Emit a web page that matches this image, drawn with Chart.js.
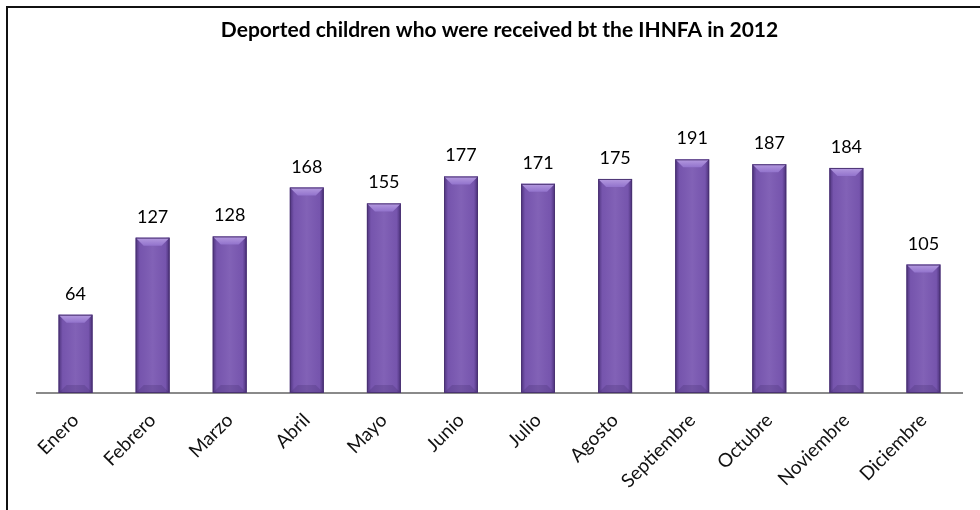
<!DOCTYPE html>
<html>
<head>
<meta charset="utf-8">
<script src="https://cdn.jsdelivr.net/npm/chart.js@4/dist/chart.umd.min.js"></script>
<style>
  html, body { margin: 0; padding: 0; background: #fff; }
  #wrap { width: 980px; height: 510px; position: relative; }
</style>
</head>
<body>
<div id="wrap"><canvas id="bar-chart" width="980" height="510"></canvas></div>
<script>
var months = ["Enero", "Febrero", "Marzo", "Abril", "Mayo", "Junio", "Julio", "Agosto", "Septiembre", "Octubre", "Noviembre", "Diciembre"];
var children = [64, 127, 128, 168, 155, 177, 171, 175, 191, 187, 184, 105];
var chartTitle = "Deported children who were received bt the IHNFA in 2012";

var fontFamily = "Lato, 'Open Sans', 'Noto Sans', sans-serif";

// frame lines (left and top of the Excel chart box)
var framePlugin = {
  id: "frame",
  beforeDraw: function(chart) {
    var ctx = chart.ctx;
    ctx.save();
    ctx.fillStyle = "#fff";
    ctx.fillRect(0, 0, chart.width, chart.height);
    ctx.strokeStyle = "#111";
    ctx.lineWidth = 2;
    ctx.beginPath();
    ctx.moveTo(7, chart.height);
    ctx.lineTo(7, 7);
    ctx.lineTo(chart.width, 7);
    ctx.stroke();
    ctx.restore();
  }
};

// bevel look on the bars + value labels on top
var bevelPlugin = {
  id: "bevel",
  afterDatasetsDraw: function(chart) {
    var ctx = chart.ctx;
    var meta = chart.getDatasetMeta(0);
    ctx.save();
    meta.data.forEach(function(bar, i) {
      var p = bar.getProps(["x", "y", "width", "base"], true);
      var l = p.x - p.width / 2, r = p.x + p.width / 2, t = p.y, b = p.base;
      var bv = 8;

      var g = ctx.createLinearGradient(l, 0, r, 0);
      g.addColorStop(0, "rgba(40,20,80,0.55)");
      g.addColorStop(0.12, "rgba(40,20,80,0.05)");
      g.addColorStop(0.5, "rgba(255,255,255,0.06)");
      g.addColorStop(0.88, "rgba(40,20,80,0.05)");
      g.addColorStop(1, "rgba(40,20,80,0.6)");
      ctx.fillStyle = g;
      ctx.fillRect(l, t, r - l, b - t);

      // top bevel
      var tg = ctx.createLinearGradient(0, t, 0, t + bv);
      tg.addColorStop(0, "#b59be0");
      tg.addColorStop(1, "#9273cc");
      ctx.fillStyle = tg;
      ctx.beginPath();
      ctx.moveTo(l, t);
      ctx.lineTo(r, t);
      ctx.lineTo(r - bv, t + bv);
      ctx.lineTo(l + bv, t + bv);
      ctx.closePath();
      ctx.fill();

      // bottom bevel
      ctx.fillStyle = "rgba(50,28,90,0.2)";
      ctx.beginPath();
      ctx.moveTo(l, b);
      ctx.lineTo(r, b);
      ctx.lineTo(r - bv, b - bv);
      ctx.lineTo(l + bv, b - bv);
      ctx.closePath();
      ctx.fill();

      // outline
      ctx.strokeStyle = "#4a3272";
      ctx.lineWidth = 1;
      ctx.strokeRect(l + 0.5, t + 0.5, r - l - 1, b - t - 1);

      // value label
      ctx.fillStyle = "#000";
      ctx.font = "18px " + fontFamily;
      ctx.textAlign = "center";
      ctx.textBaseline = "alphabetic";
      ctx.fillText(children[i], p.x, t - 15);
    });
    ctx.restore();
  }
};

var config = {
  type: "bar",
  data: {
    labels: months,
    datasets: [
      {
        data: children,
        backgroundColor: "#7a58b2",
        borderWidth: 0,
        barPercentage: 0.44,
        categoryPercentage: 1
      }
    ]
  },
  options: {
    responsive: false,
    animation: false,
    layout: {
      padding: { left: 37, right: 18, top: 0, bottom: 0 }
    },
    plugins: {
      legend: { display: false },
      tooltip: { enabled: false },
      title: {
        display: true,
        text: chartTitle,
        color: "#000",
        font: { family: fontFamily, size: 21, weight: "bold" },
        padding: { top: 18, bottom: 44 }
      }
    },
    scales: {
      x: {
        offset: true,
        grid: { display: false, drawTicks: false },
        border: { display: true, color: "#8a8a8a", width: 2 },
        ticks: {
          color: "#111",
          font: { family: fontFamily, size: 19 },
          minRotation: 45,
          maxRotation: 45,
          padding: 16
        },
        afterFit: function(scale) {
          scale.height = 117;
        }
      },
      y: {
        display: false,
        min: 0,
        max: 250
      }
    }
  },
  plugins: [framePlugin, bevelPlugin]
};

window.onload = function() {
  var ctx = document.getElementById("bar-chart").getContext("2d");
  window.myBar = new Chart(ctx, config);
};
</script>
</body>
</html>
